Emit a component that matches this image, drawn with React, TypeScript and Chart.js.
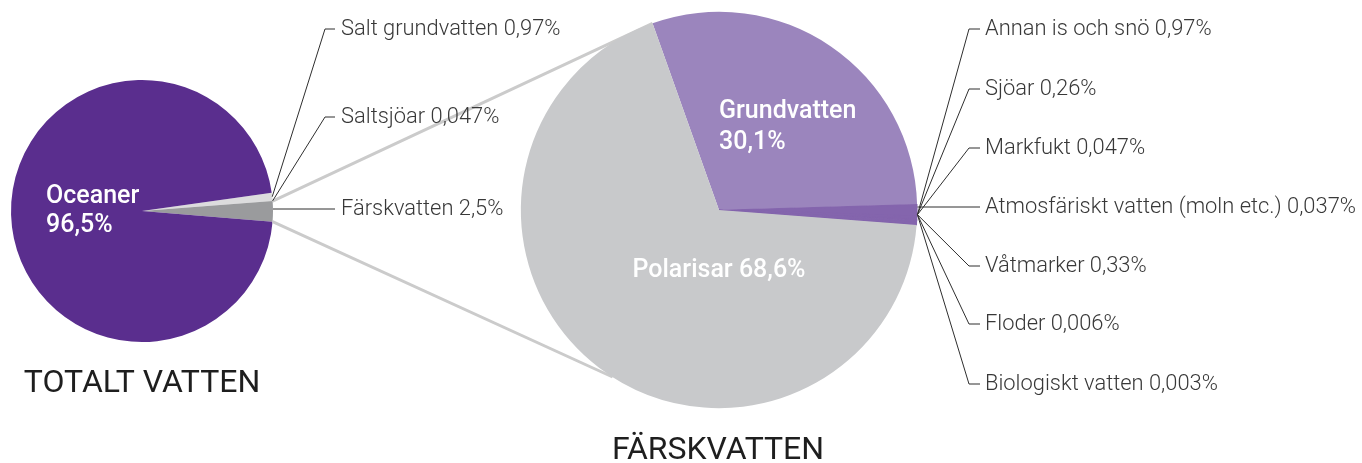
import React, { useEffect, useRef } from "react";
import { Chart, registerables } from "chart.js";

Chart.register(...registerables);

// ---------- data ----------
const totalLabels = ["Salt grundvatten", "Saltsjöar", "Färskvatten", "Oceaner"];
const totalValues = [0.97, 0.047, 2.5, 96.5];
const totalValueText = ["0,97%", "0,047%", "2,5%", "96,5%"];
const totalColors = ["#dcdcdd", "#c4c4c6", "#9a9b9d", "#5a2e8e"];

const freshLabels = [
  "Grundvatten",
  "Annan is och snö",
  "Sjöar",
  "Markfukt",
  "Atmosfäriskt vatten (moln etc.)",
  "Våtmarker",
  "Floder",
  "Biologiskt vatten",
  "Polarisar",
];
const freshValues = [30.1, 0.97, 0.26, 0.047, 0.037, 0.33, 0.006, 0.003, 68.6];
const freshValueText = ["30,1%", "0,97%", "0,26%", "0,047%", "0,037%", "0,33%", "0,006%", "0,003%", "68,6%"];
const freshColors = ["#9b85bd", "#8465ad", "#8465ad", "#8465ad", "#8465ad", "#8465ad", "#8465ad", "#8465ad", "#c8c9cb"];

const titleTotal = "TOTALT VATTEN";
const titleFresh = "FÄRSKVATTEN";

// ---------- layout ----------
const W = 1362;
const H = 463;
const L = { cx: 142, cy: 211, r: 131, rotation: 82 };
const R = { cx: 719, cy: 210, r: 198, rotation: -19.6 };
const leftLabelY = [29, 117, 209];
const leftCornerX = 325;
const leftTickX = 335;
const leftTextX = 341;
const rightLabelY = [29, 89, 148, 207, 266, 324, 384];
const rightCornerX = 969;
const rightTickX = 980;
const rightTextX = 985;
const FONT = "Roboto, 'Noto Sans', sans-serif";
const LABEL_FONT = `300 21.9px ${FONT}`;
const INSIDE_FONT = `500 25px ${FONT}`;
const TITLE_FONT = `32px ${FONT}`;
const LABEL_COLOR = "#383838";
const LINE_COLOR = "#2e2e2e";
const CONNECT_COLOR = "#cbcbcb";
const lowerConnectDeg = 212.5; // degrees clockwise from top on right pie

function edge(arc: any, ang: number, rr?: number) {
  const rad = rr ?? arc.outerRadius;
  return { x: arc.x + rad * Math.cos(ang), y: arc.y + rad * Math.sin(ang) };
}

export default function App() {
  const refA = useRef<HTMLCanvasElement>(null);
  const refB = useRef<HTMLCanvasElement>(null);

  useEffect(() => {
    const leftPlugin = {
      id: "leftOverlay",
      afterDraw(chart: any) {
        const ctx = chart.ctx as CanvasRenderingContext2D;
        const arcs = chart.getDatasetMeta(0).data;
        ctx.save();
        // connecting lines to the fresh-water pie
        const fresh = arcs[2];
        const p1 = edge(fresh, fresh.startAngle);
        const p2 = edge(fresh, fresh.endAngle);
        const topAng = ((R.rotation - 90) * Math.PI) / 180;
        const lowAng = ((lowerConnectDeg - 90) * Math.PI) / 180;
        ctx.strokeStyle = CONNECT_COLOR;
        ctx.lineWidth = 3;
        ctx.beginPath();
        ctx.moveTo(p1.x, p1.y);
        ctx.lineTo(R.cx + R.r * Math.cos(topAng), R.cy + R.r * Math.sin(topAng));
        ctx.moveTo(p2.x, p2.y);
        ctx.lineTo(R.cx + R.r * Math.cos(lowAng), R.cy + R.r * Math.sin(lowAng));
        ctx.stroke();

        // leader lines + labels
        ctx.strokeStyle = LINE_COLOR;
        ctx.lineWidth = 1;
        ctx.font = LABEL_FONT;
        ctx.fillStyle = LABEL_COLOR;
        ctx.textBaseline = "middle";
        ctx.textAlign = "left";
        for (let i = 0; i < 3; i++) {
          const a = arcs[i];
          const mid = (a.startAngle + a.endAngle) / 2;
          const p = edge(a, mid);
          const y = leftLabelY[i];
          ctx.beginPath();
          if (i === 2) {
            ctx.moveTo(p.x, y);
          } else {
            ctx.moveTo(p.x, p.y);
            ctx.lineTo(leftCornerX, y);
          }
          ctx.lineTo(leftTickX, y);
          ctx.stroke();
          ctx.fillText(`${totalLabels[i]} ${totalValueText[i]}`, leftTextX, y + 1);
        }

        // inside label
        ctx.fillStyle = "#ffffff";
        ctx.font = INSIDE_FONT;
        ctx.fillText(totalLabels[3], 46, 197);
        ctx.fillText(totalValueText[3], 46, 226);

        // title
        ctx.fillStyle = "#1e1e1e";
        ctx.font = TITLE_FONT;
        ctx.textAlign = "center";
        ctx.fillText(titleTotal, L.cx, 384);
        ctx.restore();
      },
    };

    const rightPlugin = {
      id: "rightOverlay",
      afterDraw(chart: any) {
        const ctx = chart.ctx as CanvasRenderingContext2D;
        const arcs = chart.getDatasetMeta(0).data;
        ctx.save();
        const first = arcs[1];
        const last = arcs[7];
        const midAng = (first.startAngle + last.endAngle) / 2;
        const anchor = edge(first, midAng);
        ctx.strokeStyle = LINE_COLOR;
        ctx.lineWidth = 1;
        ctx.font = LABEL_FONT;
        ctx.fillStyle = LABEL_COLOR;
        ctx.textBaseline = "middle";
        ctx.textAlign = "left";
        for (let i = 1; i <= 7; i++) {
          const y = rightLabelY[i - 1];
          ctx.beginPath();
          if (i === 4) {
            ctx.moveTo(anchor.x, y);
          } else {
            ctx.moveTo(anchor.x, anchor.y);
            ctx.lineTo(rightCornerX, y);
          }
          ctx.lineTo(rightTickX, y);
          ctx.stroke();
          ctx.fillText(`${freshLabels[i]} ${freshValueText[i]}`, rightTextX, y + 1);
        }

        // inside labels
        ctx.fillStyle = "#ffffff";
        ctx.font = INSIDE_FONT;
        ctx.fillText(freshLabels[0], 719, 112);
        ctx.fillText(freshValueText[0], 719, 143);
        ctx.textAlign = "center";
        ctx.fillText(`${freshLabels[8]} ${freshValueText[8]}`, R.cx, 271);

        // title
        ctx.fillStyle = "#1e1e1e";
        ctx.font = TITLE_FONT;
        ctx.fillText(titleFresh, 718, 451);
        ctx.restore();
      },
    };

    const common = {
      responsive: false,
      animation: false as const,
      events: [] as any[],
      plugins: { legend: { display: false }, tooltip: { enabled: false } },
    };

    const chartA = new Chart(refA.current!, {
      type: "pie",
      data: {
        labels: totalLabels,
        datasets: [
          {
            data: totalValues,
            backgroundColor: totalColors,
            borderWidth: 0,
            hoverOffset: 0,
          },
        ],
      },
      options: {
        ...common,
        rotation: L.rotation,
        layout: {
          padding: {
            left: L.cx - L.r,
            right: W - (L.cx + L.r),
            top: L.cy - L.r,
            bottom: H - (L.cy + L.r),
          },
        },
      } as any,
      plugins: [leftPlugin],
    });

    const smallBorder = freshValues.map((v) => (v < 5 ? 1 : 0));
    const chartB = new Chart(refB.current!, {
      type: "pie",
      data: {
        labels: freshLabels,
        datasets: [
          {
            data: freshValues,
            backgroundColor: freshColors,
            borderColor: freshColors,
            borderWidth: smallBorder,
            borderAlign: "inner",
            hoverOffset: 0,
          } as any,
        ],
      },
      options: {
        ...common,
        rotation: R.rotation,
        layout: {
          padding: {
            left: R.cx - R.r - 0.5,
            right: W - (R.cx + R.r) - 0.5,
            top: R.cy - R.r - 0.5,
            bottom: H - (R.cy + R.r) - 0.5,
          },
        },
      } as any,
      plugins: [rightPlugin],
    });

    return () => {
      chartA.destroy();
      chartB.destroy();
    };
  }, []);

  return (
    <div style={{ position: "absolute", left: 0, top: 0, width: W, height: H, background: "#ffffff" }}>
      <canvas ref={refA} width={W} height={H} style={{ position: "absolute", left: 0, top: 0, width: W, height: H }} />
      <canvas ref={refB} width={W} height={H} style={{ position: "absolute", left: 0, top: 0, width: W, height: H }} />
    </div>
  );
}
